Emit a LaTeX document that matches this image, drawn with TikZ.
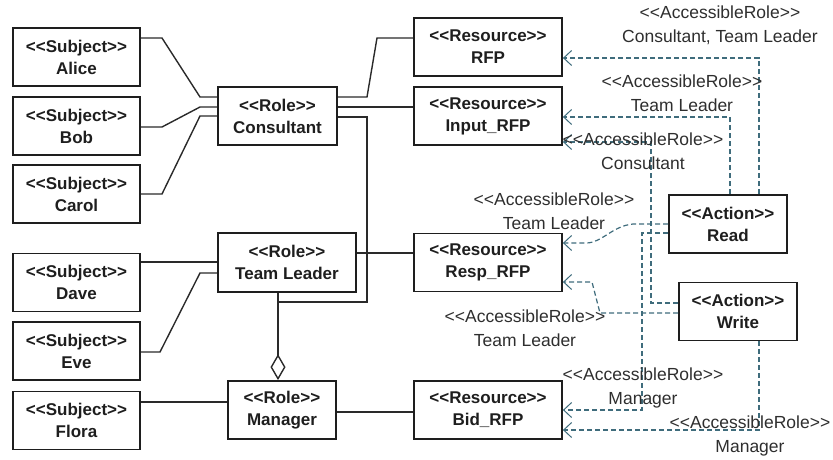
\documentclass[tikz,border=0pt]{standalone}
\usepackage{fontspec}
\newfontfamily\umlfont{Liberation Sans}
\usetikzlibrary{arrows.meta,calc}
\definecolor{boxline}{HTML}{1E1E1E}
\definecolor{wire}{HTML}{2A2A2A}
\definecolor{dashcol}{HTML}{3F6C7C}
\definecolor{labcol}{HTML}{2E2E2E}

\begin{document}
\begin{tikzpicture}[x=1pt,y=-1pt,
  box/.style={draw=boxline, line width=1.8pt, inner sep=0pt, align=center,
    text=boxline, font=\umlfont\bfseries\fontsize{17}{22}\selectfont},
  subj/.style={box, minimum width=127pt, minimum height=58pt},
  res/.style={box, minimum width=148pt, minimum height=58pt},
  act/.style={box, minimum width=118pt, minimum height=58pt},
  lab/.style={inner sep=0pt, align=center, text=labcol,
    font=\umlfont\fontsize{17.5}{24}\selectfont},
  link/.style={draw=wire, line width=1.4pt},
  acc/.style={draw=dashcol, line width=1.2pt, dash pattern=on 5pt off 3pt,
    -{Straight Barb[length=8pt,width=15pt,line width=1pt]}},
  aggr/.style={draw=wire, line width=1.4pt,
    -{Diamond[open,length=26pt,width=15pt,line width=1.4pt]}}]

\useasboundingbox (0,0) rectangle (833,460);

% subjects
\node[subj] (alice) at (76.5,57)    {<<Subject>>\\Alice};
\node[subj] (bob)   at (76.5,126)   {<<Subject>>\\Bob};
\node[subj] (carol) at (76.5,194)   {<<Subject>>\\Carol};
\node[subj] (dave)  at (76.5,282.5) {<<Subject>>\\Dave};
\node[subj] (eve)   at (76.5,351)   {<<Subject>>\\Eve};
\node[subj] (flora) at (76.5,420.5) {<<Subject>>\\Flora};

% roles
\node[box, minimum width=119pt, minimum height=58pt] (consultant) at (277.5,116) {<<Role>>\\Consultant};
\node[box, minimum width=138pt, minimum height=59pt] (leader) at (287,262.5) {<<Role>>\\Team Leader};
\node[box, minimum width=108pt, minimum height=58pt] (manager) at (282,410) {<<Role>>\\Manager};

% resources
\node[res] (rfp)   at (488,47)    {<<Resource>>\\RFP};
\node[res] (input) at (488,116)   {<<Resource>>\\Input\_RFP};
\node[res] (resp)  at (488,262.5) {<<Resource>>\\Resp\_RFP};
\node[res] (bid)   at (488,410)   {<<Resource>>\\Bid\_RFP};

% actions
\node[act] (read)  at (728,224)   {<<Action>>\\Read};
\node[act] (write) at (738,311.5) {<<Action>>\\Write};

% subject -- role assignments
\draw[link] (alice.east |- 0,38) -- (162,38) -- (200,97) -- (consultant.west |- 0,97);
\draw[link] (bob.east |- 0,127) -- (162,127) -- (200,107) -- (consultant.west |- 0,107);
\draw[link] (carol.east |- 0,194) -- (162,194) -- (200,116) -- (consultant.west |- 0,116);
\draw[link] (dave.east |- 0,262) -- (leader.west |- 0,262);
\draw[link] (eve.east |- 0,352) -- (160,352) -- (200,273) -- (leader.west |- 0,273);
\draw[link] (flora.east |- 0,402) -- (manager.west |- 0,402);

% role -- resource links
\draw[link] (consultant.east |- 0,97) -- (367,97) -- (377,38) -- (rfp.west |- 0,38);
\draw[link] (consultant.east |- 0,107) -- (input.west |- 0,107);
\draw[link] (leader.east |- 0,253) -- (resp.west |- 0,253);
\draw[link] (manager.east |- 0,412) -- (bid.west |- 0,412);

% role hierarchy (aggregation into Manager)
\coordinate (junction) at (278,302);
\draw[link] (consultant.east |- 0,117) -- (367,117) -- (367,302) -- (junction);
\draw[aggr] (leader.south -| 278,0) -- (manager.north -| 278,0);

% accessible-role dependencies
\draw[acc] (read.north -| 759,0) -- (759,58) -- (rfp.east |- 0,58);
\draw[acc] (read.north -| 730,0) -- (730,117) -- (input.east |- 0,117);
\draw[acc] (write.west |- 0,303) -- (651,303) -- (651,142) -- (input.east |- 0,142);
\draw[acc] (read.west |- 0,224) -- (633,224) .. controls (612,226) and (602,243) .. (586,243) -- (resp.east |- 0,243);
\draw[acc] (read.west |- 0,233) -- (642,233) -- (642,410) -- (bid.east |- 0,410);
\draw[acc] (write.west |- 0,313) -- (600,313) -- (592,282) -- (resp.east |- 0,282);
\draw[acc] (write.south -| 759,0) -- (759,430) -- (bid.east |- 0,430);

% stereotype labels
\node[lab] (l1) at (720,25)    {<<AccessibleRole>>\\Consultant, Team Leader};
\node[lab] (l2) at (682,93.5)  {<<AccessibleRole>>\\Team Leader};
\node[lab] (l3) at (643,151.5) {<<AccessibleRole>>\\Consultant};
\node[lab] (l4) at (554,211)   {<<AccessibleRole>>\\Team Leader};
\node[lab] (l5) at (525,328.5) {<<AccessibleRole>>\\Team Leader};
\node[lab] (l6) at (643,387.5) {<<AccessibleRole>>\\Manager};
\node[lab] (l7) at (750,436)   {<<AccessibleRole>>\\Manager};
\end{tikzpicture}
\end{document}
